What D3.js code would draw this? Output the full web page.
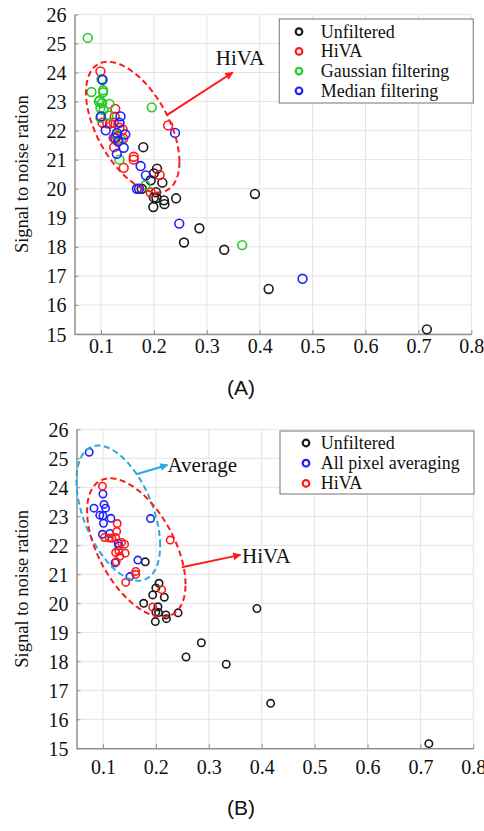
<!DOCTYPE html>
<html><head><meta charset="utf-8">
<script src="https://cdn.jsdelivr.net/npm/d3@7/dist/d3.min.js"></script>
<style>body{margin:0;background:#fff}svg{display:block}</style>
</head><body>
<script>
// ---------- data ----------
const xTickValues = [0.1, 0.2, 0.3, 0.4, 0.5, 0.6, 0.7, 0.8];
const yTickValues = [15, 16, 17, 18, 19, 20, 21, 22, 23, 24, 25, 26];
const xDomain = [0.05, 0.8];
const yDomain = [15, 26];

const unfiltered = [
  [0.180,21.43],[0.206,20.69],[0.200,20.53],[0.194,20.29],[0.216,20.21],[0.177,20.00],
  [0.204,19.88],[0.200,19.70],[0.205,19.68],[0.219,19.60],[0.220,19.47],[0.199,19.37],
  [0.242,19.67],[0.391,19.82],[0.286,18.64],[0.257,18.15],[0.333,17.90],[0.417,16.55],
  [0.716,15.16]
];
const hiva = [
  [0.099,24.04],[0.103,22.27],[0.112,22.25],[0.127,22.75],[0.126,22.48],[0.124,22.27],
  [0.135,22.10],[0.141,22.04],[0.124,21.75],[0.130,21.80],[0.125,21.43],[0.142,21.73],
  [0.162,21.10],[0.162,21.00],[0.143,20.72],[0.227,22.18],[0.211,20.47],[0.194,19.87],
  [0.117,22.24],[0.132,21.62]
];
const gaussian = [
  [0.075,25.19],[0.082,23.33],[0.101,23.77],[0.104,23.32],[0.104,23.39],[0.096,23.00],
  [0.102,22.95],[0.116,22.92],[0.099,22.78],[0.105,22.72],[0.099,22.44],[0.114,22.52],
  [0.196,22.80],[0.130,21.87],[0.135,21.00],[0.138,21.70],[0.184,20.12],[0.367,18.06],
  [0.098,23.05]
];
const median = [
  [0.103,23.75],[0.100,22.49],[0.109,22.01],[0.137,22.49],[0.135,22.27],[0.130,21.92],
  [0.146,21.87],[0.127,21.75],[0.133,21.64],[0.143,21.41],[0.130,21.20],[0.175,20.78],
  [0.240,21.92],[0.185,20.46],[0.168,20.00],[0.172,20.00],[0.248,18.80],[0.481,16.90]
];
const allPixelAveraging = [
  [0.074,25.21],[0.100,23.77],[0.102,23.41],[0.105,23.28],[0.083,23.28],[0.094,23.04],
  [0.100,23.02],[0.115,22.93],[0.101,22.76],[0.190,22.92],[0.099,22.38],[0.113,22.41],
  [0.129,22.07],[0.130,21.98],[0.123,21.40],[0.166,21.49],[0.151,20.92]
];

const seriesA = [
  {name:"Unfiltered", color:"#1a1a1a", data:unfiltered},
  {name:"HiVA", color:"#ff1a1a", data:hiva},
  {name:"Gaussian filtering", color:"#26cc26", data:gaussian},
  {name:"Median filtering", color:"#1f1fff", data:median}
];
const seriesB = [
  {name:"Unfiltered", color:"#1a1a1a", data:unfiltered},
  {name:"All pixel averaging", color:"#1f1fff", data:allPixelAveraging},
  {name:"HiVA", color:"#ff1a1a", data:hiva}
];

// annotations (data coordinates): ellipse center, half extents, correlation
const ellipsesA = [{cx:0.160, cy:22.12, sx:0.0883, sy:2.25, rho:-0.53, color:"#ff1a1a"}];
const ellipsesB = [
  {cx:0.129, cy:23.11, sx:0.0791, sy:2.33, rho:-0.48, color:"#29a9e0"},
  {cx:0.163, cy:21.92, sx:0.093, sy:2.39, rho:-0.53, color:"#ff1a1a"}
];
const arrowsA = [{x1:0.226, y1:22.55, x2:0.349, y2:24.0, color:"#ff1a1a", label:"HiVA", lx:0.317, ly:24.27}];
const arrowsB = [
  {x1:0.163, y1:24.45, x2:0.222, y2:24.77, color:"#29a9e0", label:"Average", lx:0.222, ly:24.52},
  {x1:0.249, y1:21.24, x2:0.360, y2:21.67, color:"#ff1a1a", label:"HiVA", lx:0.363, ly:21.40}
];

// ---------- drawing ----------
const W = 484, H = 831;
const svg = d3.select("body").append("svg").attr("width", W).attr("height", H);
const defs = svg.append("defs");
[["#ff1a1a","arrRed"],["#29a9e0","arrCyan"]].forEach(([c,id])=>{
  defs.append("marker").attr("id",id).attr("viewBox","0 0 10 10").attr("refX",9).attr("refY",5)
    .attr("markerWidth",10).attr("markerHeight",8).attr("markerUnits","userSpaceOnUse")
    .attr("orient","auto").append("path").attr("d","M0,0L10,5L0,10Z").attr("fill",c);
});

const serif = "'Liberation Serif','Times New Roman',serif";

function panel(cfg){
  const g = svg.append("g");
  const x = d3.scaleLinear().domain(xDomain).range([cfg.left, cfg.right]);
  const y = d3.scaleLinear().domain(yDomain).range([cfg.bottom, cfg.top]);
  // grid
  g.selectAll(".gx").data(xTickValues).enter().append("line")
    .attr("x1",d=>x(d)).attr("x2",d=>x(d)).attr("y1",cfg.top).attr("y2",cfg.bottom)
    .attr("stroke","#e4e4e4").attr("stroke-width",1);
  g.selectAll(".gy").data(yTickValues).enter().append("line")
    .attr("x1",cfg.left).attr("x2",cfg.right).attr("y1",d=>y(d)).attr("y2",d=>y(d))
    .attr("stroke","#e4e4e4").attr("stroke-width",1);
  // axes
  const xa = g.append("g").attr("transform",`translate(0,${cfg.bottom})`)
    .call(d3.axisBottom(x).tickValues(xTickValues).tickSizeInner(-4).tickSizeOuter(0).tickFormat(d3.format(".1f")));
  const ya = g.append("g").attr("transform",`translate(${cfg.left},0)`)
    .call(d3.axisLeft(y).tickValues(yTickValues).tickSizeInner(-4).tickSizeOuter(0).tickFormat(d3.format("d")));
  [xa,ya].forEach(a=>{
    a.select(".domain").attr("stroke","#8f8f8f").attr("stroke-width",1.5);
    a.selectAll(".tick line").attr("stroke","#8f8f8f");
    a.selectAll("text").attr("font-family",serif).attr("font-size",20).attr("fill","#111");
  });
  xa.selectAll("text").attr("y", cfg.xLabelOffset).attr("dy","0.35em");
  ya.selectAll("text").attr("x",-8).attr("dy","0.35em");
  // y label
  g.append("text").attr("transform",`translate(${cfg.yLabelX},${(cfg.top+cfg.bottom)/2}) rotate(-90)`)
    .attr("text-anchor","middle").attr("dy","0.35em").attr("font-family",serif).attr("font-size",18.5)
    .attr("fill","#111").text("Signal to noise ration");
  // points
  cfg.series.forEach(s=>{
    g.append("g").selectAll("circle").data(s.data).enter().append("circle")
      .attr("cx",d=>x(d[0])).attr("cy",d=>y(d[1])).attr("r",cfg.r)
      .attr("fill","none").attr("stroke",s.color).attr("stroke-width",1.6);
  });
  // ellipses
  cfg.ellipses.forEach(e=>{
    const ts = d3.range(0, 2*Math.PI, Math.PI/90);
    const c = Math.sqrt(1-e.rho*e.rho);
    const line = d3.line().x(t=>x(e.cx + e.sx*Math.cos(t)))
      .y(t=>y(e.cy + e.sy*(e.rho*Math.cos(t) + c*Math.sin(t)))).curve(d3.curveLinearClosed);
    g.append("path").attr("d",line(ts)).attr("fill","none").attr("stroke",e.color)
      .attr("stroke-width",2).attr("stroke-dasharray","6,3.5");
  });
  // arrows + labels
  cfg.arrows.forEach(a=>{
    g.append("line").attr("x1",x(a.x1)).attr("y1",y(a.y1)).attr("x2",x(a.x2)).attr("y2",y(a.y2))
      .attr("stroke",a.color).attr("stroke-width",2)
      .attr("marker-end",`url(#${a.color==="#ff1a1a"?"arrRed":"arrCyan"})`);
    g.append("text").attr("x",x(a.lx)).attr("y",y(a.ly)).attr("font-family",serif)
      .attr("font-size",21).attr("fill","#111").text(a.label);
  });
  // legend
  const L = cfg.legend;
  g.append("rect").attr("x",L.x).attr("y",L.y).attr("width",L.w).attr("height",L.h)
    .attr("fill","#fff").attr("stroke","#8a8a8a").attr("stroke-width",1.2);
  cfg.series.forEach((s,i)=>{
    const cy = L.y + L.first + i*L.step;
    g.append("circle").attr("cx",L.mx).attr("cy",cy).attr("r",3.3)
      .attr("fill","none").attr("stroke",s.color).attr("stroke-width",2.2);
    g.append("text").attr("x",L.tx).attr("y",cy).attr("dy","0.33em").attr("font-family",serif)
      .attr("font-size",18).attr("fill","#111").text(s.name);
  });
  // panel label
  g.append("text").attr("x",cfg.capX).attr("y",cfg.capY).attr("text-anchor","middle")
    .attr("dy","0.35em").attr("font-family","'Liberation Sans',Arial,sans-serif")
    .attr("font-size",21).attr("fill","#111").text(cfg.caption);
}

panel({left:74.5, right:471.3, top:14.4, bottom:334, xLabelOffset:12, yLabelX:22, r:4.4,
  series:seriesA, ellipses:ellipsesA, arrows:arrowsA,
  legend:{x:279.3, y:19, w:194, h:84, first:12.7, step:19.7, mx:299, tx:320.7},
  caption:"(A)", capX:241, capY:388});
panel({left:76.5, right:473.3, top:429.3, bottom:748.3, xLabelOffset:19, yLabelX:22, r:3.7,
  series:seriesB, ellipses:ellipsesB, arrows:arrowsB,
  legend:{x:280, y:431, w:194, h:63, first:12, step:20.2, mx:306, tx:320.7},
  caption:"(B)", capX:241, capY:808});
</script>
</body></html>
